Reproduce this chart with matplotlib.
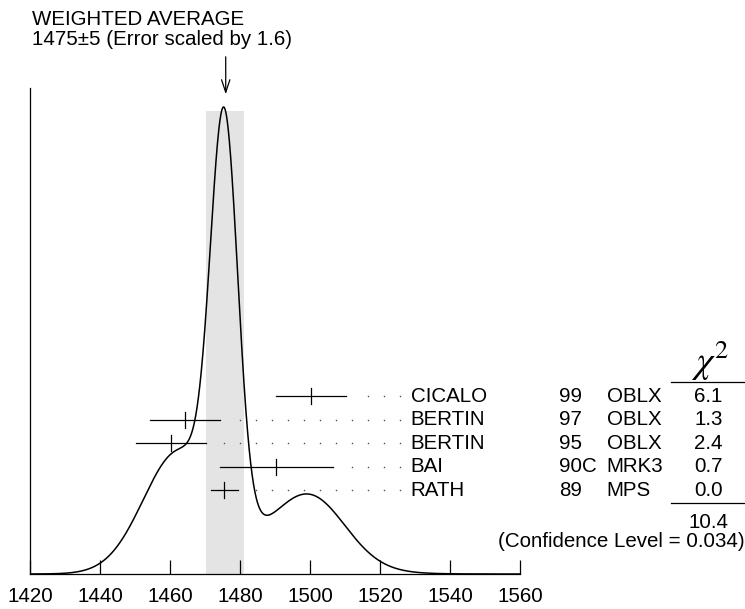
import numpy as np
import matplotlib
matplotlib.use("Agg")
import matplotlib.pyplot as plt

plt.rcParams['font.family'] = ['Liberation Sans', 'DejaVu Sans']

# ---- data ----
names = ["CICALO", "BERTIN", "BERTIN", "BAI", "RATH"]
years = ["99", "97", "95", "90C", "89"]
methods = ["OBLX", "OBLX", "OBLX", "MRK3", "MPS"]
values = [1500.2, 1464.4, 1460.4, 1490.4, 1475.5]
errors = [10.0, 10.0, 10.0, 16.2, 3.9]
chi2 = ["6.1", "1.3", "2.4", "0.7", "0.0"]
chi2_total = "10.4"
conf_level = "0.034"
avg_label = "1475\u00b15"
scale_label = "1.6"
xticks = [1420, 1440, 1460, 1480, 1500, 1520, 1540, 1560]

# weighted average and scaled error computed from the measurements
w = 1.0 / np.array(errors) ** 2
avg_value = float(np.sum(w * np.array(values)) / np.sum(w))
avg_error = float(np.sqrt(1.0 / np.sum(w)) * np.sqrt(float(chi2_total) / (len(values) - 1)))

W, H = 745, 609
FS = 14.8
fig = plt.figure(figsize=(W / 100, H / 100), dpi=100)
ax_l, ax_r, ax_b, ax_t = 30, 520, 574, 88
ax = fig.add_axes([ax_l / W, (H - ax_b) / H, (ax_r - ax_l) / W, (ax_b - ax_t) / H])
ax.set_xlim(1420, 1560)
ax.set_ylim(0, 1)
ax.patch.set_alpha(0)

def py(p):
    """pixel row -> axes y fraction"""
    return (ax_b - p) / (ax_b - ax_t)

def px(p):
    """pixel column -> data x"""
    return 1420 + (p - ax_l) * 140.0 / (ax_r - ax_l)

# ideogram curve
x = np.linspace(1420, 1560, 1400)
y = np.zeros_like(x)
for v, e in zip(values, errors):
    y += (1.0 / e ** 2) * np.exp(-0.5 * ((x - v) / e) ** 2)
y = y / y.max() * py(107)

# shaded band (weighted average +- scaled error)
ax.fill_between([avg_value - avg_error - 0.4, avg_value + avg_error], 0, py(111),
                color='#e4e4e4', lw=0, zorder=0)
ax.plot(x, y, color='black', lw=1.1, zorder=3)

# rows
row_y = [py(396.0 + 23.6 * i) for i in range(len(values))]
half_tick = 8 / (ax_b - ax_t)
dot_last, dot_step = px(400), 16 * 140.0 / (ax_r - ax_l)
for i, (v, e) in enumerate(zip(values, errors)):
    yy = row_y[i]
    ax.plot([v - e, v + e], [yy, yy], color='black', lw=0.9, zorder=4)
    ax.plot([v, v], [yy - half_tick, yy + half_tick], color='black', lw=0.9, zorder=4)
    dx = [dot_last - dot_step * k for k in range(30)]
    dx = [d for d in dx if d > v + e + 3.6]
    ax.scatter(dx, [yy] * len(dx), s=1.3, color='#555555', lw=0, zorder=4)
    ax.text(px(410.7), yy, names[i], fontsize=FS, va='center', ha='left', clip_on=False)
    ax.text(px(559.3), yy, years[i], fontsize=FS, va='center', ha='left', clip_on=False)
    ax.text(px(606.5), yy, methods[i], fontsize=FS, va='center', ha='left', clip_on=False)
    ax.text(px(708.5), yy, chi2[i], fontsize=FS, va='center', ha='center', clip_on=False)

# chi2 header and lines
ax.text(px(710), py(373), r"$\chi^2$", fontsize=27, math_fontfamily='stix',
        va='baseline', ha='center', clip_on=False)
ax.plot([px(670.7), px(745)], [py(381.7), py(381.7)], color='black', lw=0.9, clip_on=False)
ax.plot([px(670.7), px(745)], [py(502.7), py(502.7)], color='black', lw=0.9, clip_on=False)
ax.text(px(708.5), py(522.7), chi2_total, fontsize=FS, va='center', ha='center', clip_on=False)
ax.text(px(744.5), py(541.7), f"(Confidence Level = {conf_level})", fontsize=FS,
        va='center', ha='right', clip_on=False)

# arrow to weighted average
ax.annotate('', xy=(avg_value, py(97)), xytext=(avg_value, py(54)),
            arrowprops=dict(arrowstyle='->,head_length=0.9,head_width=0.3', color='black', lw=0.9),
            annotation_clip=False)

# title text
fig.text(31.7 / W, 1 - 25 / H, "WEIGHTED AVERAGE", fontsize=FS, ha='left', va='baseline')
fig.text(31.7 / W, 1 - 45 / H, f"{avg_label} (Error scaled by {scale_label})",
         fontsize=FS, ha='left', va='baseline')

# axes styling
for s in ['top', 'right']:
    ax.spines[s].set_visible(False)
for s in ['left', 'bottom']:
    ax.spines[s].set_linewidth(0.9)
ax.set_yticks([])
ax.set_xticks(xticks)
ax.set_xticklabels([str(t) for t in xticks], fontsize=FS)
ax.tick_params(axis='x', direction='in', length=10, width=0.9, pad=9)

fig.savefig("out.png", dpi=100)
